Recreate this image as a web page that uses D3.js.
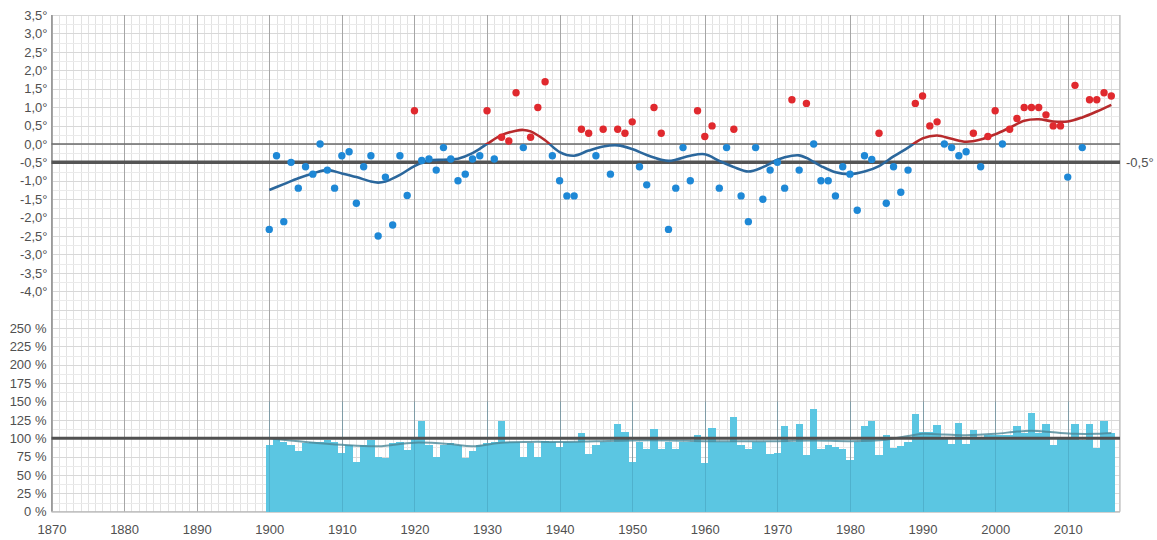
<!DOCTYPE html>
<html><head><meta charset="utf-8">
<script src="https://cdn.jsdelivr.net/npm/d3@7"></script>
<style>
html,body{margin:0;padding:0;background:#fff;}
svg{display:block;font-family:"Liberation Sans",Arial,sans-serif;}
.lab text{fill:#505050;font-size:13px;}
</style></head>
<body>
<svg id="c" width="1157" height="540"></svg>
<script>
// ---------- data ----------
const firstYear = 1900;
const tempAnomaly = [
 -2.32,-0.32,-2.11,-0.5,-1.2,-0.62,-0.82,0.0,-0.71,-1.2,
 -0.32,-0.21,-1.61,-0.62,-0.32,-2.5,-0.9,-2.2,-0.32,-1.4,
 0.9,-0.45,-0.41,-0.71,-0.1,-0.41,-1.0,-0.82,-0.41,-0.32,
 0.9,-0.41,0.18,0.08,1.39,-0.1,0.18,0.99,1.69,-0.32,
 -1.0,-1.41,-1.41,0.4,0.29,-0.32,0.4,-0.82,0.4,0.29,
 0.6,-0.62,-1.11,0.99,0.29,-2.32,-1.2,-0.1,-1.0,0.9,
 0.2,0.49,-1.2,-0.1,0.4,-1.41,-2.11,-0.1,-1.5,-0.71,
 -0.5,-1.2,1.2,-0.71,1.1,0.0,-1.0,-1.0,-1.41,-0.62,
 -0.82,-1.8,-0.32,-0.42,0.29,-1.61,-0.62,-1.31,-0.71,1.1,
 1.3,0.49,0.6,0.0,-0.1,-0.32,-0.21,0.29,-0.62,0.2,
 0.9,0.0,0.4,0.69,0.99,0.99,0.99,0.79,0.49,0.49,
 -0.9,1.59,-0.1,1.2,1.2,1.39,1.3
];
const precipPercent = [
 91,101,95,91,83,93,95,95,98,95,
 80,91,68,91,98,75,73,93,95,84,
 102,124,91,75,91,93,91,73,82,91,
 93,95,124,95,95,75,93,75,96,95,
 88,95,95,107,78,91,95,95,119,109,
 68,95,85,113,85,95,85,95,95,104,
 66,114,95,95,129,91,85,95,95,78,
 80,116,95,119,77,140,85,91,88,85,
 71,95,116,123,77,104,87,89,95,133,
 109,109,118,102,92,121,92,111,102,104,
 104,104,104,117,107,134,107,120,91,101,
 100,120,98,120,87,124,107
];
// smoothed trend lines
const tempTrendYears = [1900,1902,1904,1906,1908,1910,1912,1914,1915,1916,1918,1920,1922,1924,1926,1928,1930,1932,1934,1935,1936,1938,1940,1942,1944,1946,1948,1950,1952,1954,1955,1956,1958,1960,1962,1964,1966,1968,1970,1972,1973,1974,1976,1978,1980,1982,1984,1986,1988,1990,1992,1994,1996,1998,2000,2002,2004,2006,2008,2010,2012,2014,2016];
const tempTrend = [-1.25,-1.09,-0.93,-0.8,-0.71,-0.8,-0.9,-1.02,-1.05,-1.02,-0.84,-0.6,-0.45,-0.43,-0.4,-0.25,0.0,0.24,0.36,0.38,0.34,0.1,-0.22,-0.32,-0.18,-0.07,-0.04,-0.14,-0.3,-0.43,-0.46,-0.43,-0.32,-0.28,-0.46,-0.63,-0.75,-0.63,-0.43,-0.32,-0.31,-0.38,-0.6,-0.77,-0.82,-0.75,-0.6,-0.34,-0.1,0.15,0.23,0.14,0.06,0.12,0.26,0.44,0.63,0.67,0.61,0.61,0.72,0.88,1.06];
const precipTrendYears = [1900,1905,1910,1915,1920,1925,1928,1932,1936,1940,1945,1950,1955,1960,1965,1970,1975,1980,1985,1988,1990,1993,1996,2000,2003,2005,2008,2011,2014,2016];
const precipTrend = [100,95,91,89,94,92,89,94,95,95,96,97,97,96,96,96,97,96,98,103,106,105,104,106,109,110,108,106,106,107];
const tempTicks = [3.5,3,2.5,2,1.5,1,0.5,0,-0.5,-1,-1.5,-2,-2.5,-3,-3.5,-4];
const precipTicks = [250,225,200,175,150,125,100,75,50,25,0];
const yearTicks = [1870,1880,1890,1900,1910,1920,1930,1940,1950,1960,1970,1980,1990,2000,2010];
const referenceTemp = -0.5;

// ---------- scales ----------
const svg = d3.select("#c");
const L = 51.5, R = 1120, T = 15, B = 511.7;
const x = d3.scaleLinear().domain([1870, 2017.2]).range([L, R]);
const yT = d3.scaleLinear().domain([-4, 3.5]).range([291.3, T]);
const yP = d3.scaleLinear().domain([0, 250]).range([B, 328]);

const temps = tempAnomaly.map((v,i)=>({year:firstYear+i, v}));
const precs = precipPercent.map((v,i)=>({year:firstYear+i, v}));

// ---------- grid ----------
const g = svg.append("g");
const allYears = d3.range(1870, 2018);
g.selectAll(".vmin").data(allYears).join("line")
  .attr("x1", d=>Math.round(x(d))+0.5).attr("x2", d=>Math.round(x(d))+0.5)
  .attr("y1", T).attr("y2", B)
  .attr("stroke", "#e2e2e2").attr("stroke-width", 1);
const hTemp = d3.range(-4, 3.5001, 0.25);
const hPrec = d3.range(0, 300.001, 12.5);
g.selectAll(".ht").data(hTemp).join("line")
  .attr("x1", L).attr("x2", R).attr("y1", d=>Math.round(yT(d))+0.5).attr("y2", d=>Math.round(yT(d))+0.5)
  .attr("stroke", d=> (Math.abs(d*2-Math.round(d*2))<1e-6) ? "#d8d8d8" : "#eaeaea");
g.selectAll(".hp").data(hPrec).join("line")
  .attr("x1", L).attr("x2", R).attr("y1", d=>Math.round(yP(d))+0.5).attr("y2", d=>Math.round(yP(d))+0.5)
  .attr("stroke", d=> (d%25===0) ? "#d8d8d8" : "#eaeaea");
g.selectAll(".vmaj").data(yearTicks).join("line")
  .attr("x1", d=>Math.round(x(d))+0.5).attr("x2", d=>Math.round(x(d))+0.5)
  .attr("y1", T).attr("y2", B)
  .attr("stroke", "#a6a6a6").attr("stroke-width", 1);
g.append("line").attr("x1", L).attr("x2", L).attr("y1", T).attr("y2", B).attr("stroke", "#9a9a9a");
g.append("line").attr("x1", R).attr("x2", R).attr("y1", T).attr("y2", B).attr("stroke", "#b0b0b0");
g.append("line").attr("x1", L).attr("x2", R).attr("y1", B).attr("y2", B).attr("stroke", "#b5b5b5");

// ---------- bars ----------
svg.append("g").selectAll("rect").data(precs).join("rect")
  .attr("x", d=>x(d.year-0.5))
  .attr("width", d=>x(d.year+0.5)-x(d.year-0.5))
  .attr("y", d=>yP(d.v))
  .attr("height", d=>yP(0)-yP(d.v))
  .attr("fill", "#5bc6e2")
  .attr("shape-rendering", "crispEdges");
svg.append("g").selectAll("line").data(yearTicks.filter(d=>d>=1900)).join("line")
  .attr("x1", d=>Math.round(x(d))+0.5).attr("x2", d=>Math.round(x(d))+0.5)
  .attr("y1", yP(150)).attr("y2", B)
  .attr("stroke", "#3a8aa5").attr("stroke-opacity", 0.35);

svg.append("path").datum(precipTrendYears.map((yr,i)=>[yr, precipTrend[i]]))
  .attr("d", d3.line().x(d=>x(d[0])).y(d=>yP(d[1])).curve(d3.curveCatmullRom.alpha(0.5)))
  .attr("fill", "none").attr("stroke", "#4b8797").attr("stroke-opacity", 0.8).attr("stroke-width", 2);

svg.append("line").attr("x1", L).attr("x2", R).attr("y1", yP(100)).attr("y2", yP(100))
  .attr("stroke", "#505050").attr("stroke-width", 3);

svg.append("line").attr("x1", L).attr("x2", R).attr("y1", yT(0)).attr("y2", yT(0))
  .attr("stroke", "#6a6a6a").attr("stroke-width", 1.5);
svg.append("line").attr("x1", L).attr("x2", R).attr("y1", yT(referenceTemp)).attr("y2", yT(referenceTemp))
  .attr("stroke", "#555").attr("stroke-width", 3.5);

const defs = svg.append("defs");
defs.append("clipPath").attr("id","above").append("rect")
  .attr("x", 0).attr("y", 0).attr("width", 1157).attr("height", yT(0));
defs.append("clipPath").attr("id","below").append("rect")
  .attr("x", 0).attr("y", yT(0)).attr("width", 1157).attr("height", 540);
const trendLine = d3.line().x(d=>x(d[0])).y(d=>yT(d[1])).curve(d3.curveCatmullRom.alpha(0.5));
const trendData = tempTrendYears.map((yr,i)=>[yr, tempTrend[i]]);
svg.append("path").datum(trendData).attr("d", trendLine).attr("clip-path","url(#below)")
  .attr("fill","none").attr("stroke","#2b679c").attr("stroke-width",2.6);
svg.append("path").datum(trendData).attr("d", trendLine).attr("clip-path","url(#above)")
  .attr("fill","none").attr("stroke","#b72a2c").attr("stroke-width",2.6);

svg.append("g").selectAll("circle").data(temps).join("circle")
  .attr("cx", d=>x(d.year)).attr("cy", d=>yT(d.v)).attr("r", 3.7)
  .attr("fill", d=> d.v > 0 ? "#e0292e" : "#1e88d6");

// ---------- axes (labels only) ----------
const fmtT = d => d.toFixed(1).replace(".", ",") + "°";
const axT = svg.append("g").attr("class","lab").attr("transform",`translate(${L},0)`)
  .call(d3.axisLeft(yT).tickValues(tempTicks).tickFormat(fmtT).tickSize(0).tickPadding(4));
const axP = svg.append("g").attr("class","lab").attr("transform",`translate(${L},0)`)
  .call(d3.axisLeft(yP).tickValues(precipTicks).tickFormat(d=>d+" %").tickSize(0).tickPadding(5));
const axX = svg.append("g").attr("class","lab").attr("transform",`translate(0,${B})`)
  .call(d3.axisBottom(x).tickValues(yearTicks).tickFormat(d3.format("d")).tickSize(0).tickPadding(13));
[axT, axP, axX].forEach(a => a.select(".domain").remove());

svg.append("g").attr("class","lab").append("text")
  .attr("x", 1126).attr("y", yT(referenceTemp)).attr("dy","0.32em")
  .text(fmtT(referenceTemp));
</script>
</body></html>
